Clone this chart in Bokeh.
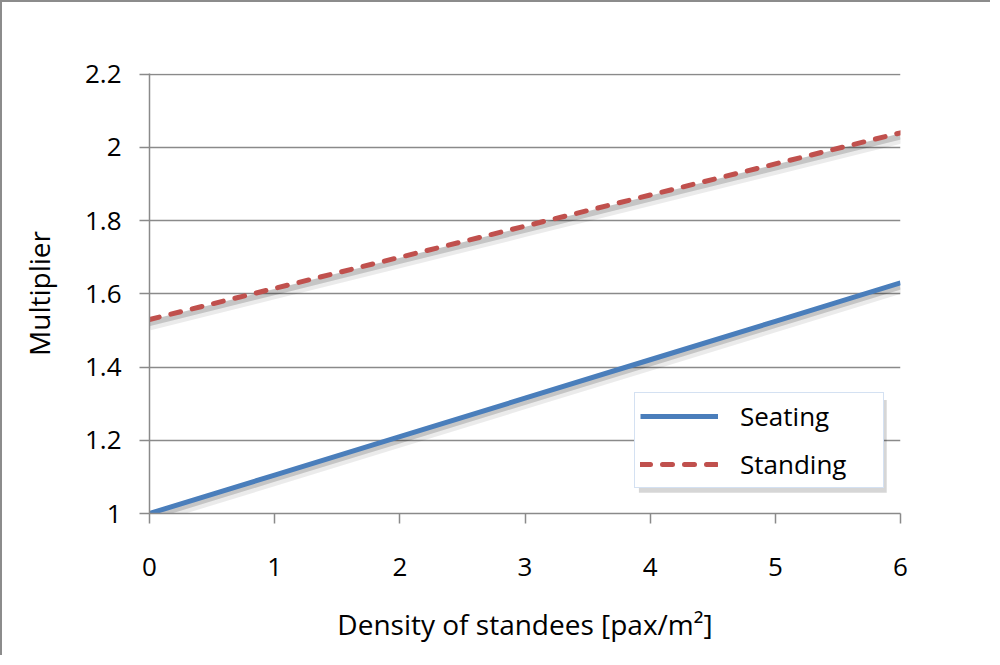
from bokeh.plotting import figure
from bokeh.models import Legend, LegendItem, FixedTicker, Range1d, BoxAnnotation
from bokeh.embed import file_html
from bokeh.resources import INLINE

# Data
density = [0, 1, 2, 3, 4, 5, 6]
seating = [1.00, 1.105, 1.21, 1.315, 1.42, 1.525, 1.63]
standing = [1.53, 1.615, 1.70, 1.785, 1.87, 1.955, 2.04]
y_ticks = [1, 1.2, 1.4, 1.6, 1.8, 2, 2.2]
x_ticks = [0, 1, 2, 3, 4, 5, 6]
y_labels = {1: "1", 1.2: "1.2", 1.4: "1.4", 1.6: "1.6", 1.8: "1.8", 2: "2", 2.2: "2.2"}

FONT = "Open Sans"
FS = "26px"
FS_TITLE = "28px"
GRAY = "#8a8a8a"

p = figure(width=990, height=655, output_backend="svg", toolbar_location=None,
           x_range=Range1d(0, 6), y_range=Range1d(1, 2.202),
           min_border_left=147, min_border_right=92, min_border_top=71, min_border_bottom=144)
p.styles = {"border-left": "2px solid #8c8c8c", "border-top": "2px solid #8c8c8c"}
p.outline_line_color = None
p.background_fill_color = "white"
p.border_fill_color = "white"

# Axes
for ax in (p.xaxis[0], p.yaxis[0]):
    ax.axis_line_color = GRAY
    ax.axis_line_width = 1.5
    ax.major_tick_line_color = GRAY
    ax.major_tick_line_width = 1.5
    ax.major_tick_out = 10
    ax.major_tick_in = 0
    ax.minor_tick_line_color = None
    ax.major_label_text_font = FONT
    ax.major_label_text_font_size = FS
    ax.major_label_text_color = "black"
    ax.axis_label_text_font = FONT
    ax.axis_label_text_font_size = FS_TITLE
    ax.axis_label_text_font_style = "normal"
    ax.axis_label_text_color = "black"

p.xaxis.ticker = FixedTicker(ticks=x_ticks)
p.yaxis.ticker = FixedTicker(ticks=y_ticks)
p.yaxis.major_label_overrides = y_labels
p.xaxis.axis_label = "Density of standees [pax/m²]"
p.yaxis.axis_label = "Multiplier"
p.xaxis.major_label_standoff = 34
p.xaxis.axis_label_standoff = 26
p.yaxis.major_label_standoff = 18
p.yaxis.axis_label_standoff = 24

p.xgrid.grid_line_color = None
p.ygrid.grid_line_color = GRAY
p.ygrid.grid_line_width = 1.5

# Shadows
for ys in (seating, standing):
    p.line(density, [v - 0.016 for v in ys], line_color="#000000", line_alpha=0.08, line_width=10)
    p.line(density, [v - 0.010 for v in ys], line_color="#000000", line_alpha=0.16, line_width=6)

r1 = p.line(density, seating, line_color="#4a7ebb", line_width=5)
r2 = p.line(density, standing, line_color="#c0504d", line_width=5, line_dash="10 12",
            line_cap="round")

# Legend shadow
p.add_layout(BoxAnnotation(left=3.91, right=5.89, top=1.31, bottom=1.057,
                           fill_color="black", fill_alpha=0.16, line_color=None))

legend = Legend(items=[LegendItem(label="Seating", renderers=[r1]),
                       LegendItem(label="Standing", renderers=[r2])],
                location=(485, 25))
legend.border_line_color = "#a9c4e6"
legend.border_line_width = 1.5
legend.background_fill_color = "white"
legend.background_fill_alpha = 1.0
legend.label_text_font = FONT
legend.label_text_font_size = FS
legend.label_text_color = "black"
legend.glyph_width = 78
legend.glyph_height = 22
legend.label_height = 22
legend.label_width = 138
legend.label_standoff = 22
legend.spacing = 12
legend.padding = 5
legend.margin = 0
p.add_layout(legend, "center")

open("out.html", "w").write(file_html(p, INLINE))
